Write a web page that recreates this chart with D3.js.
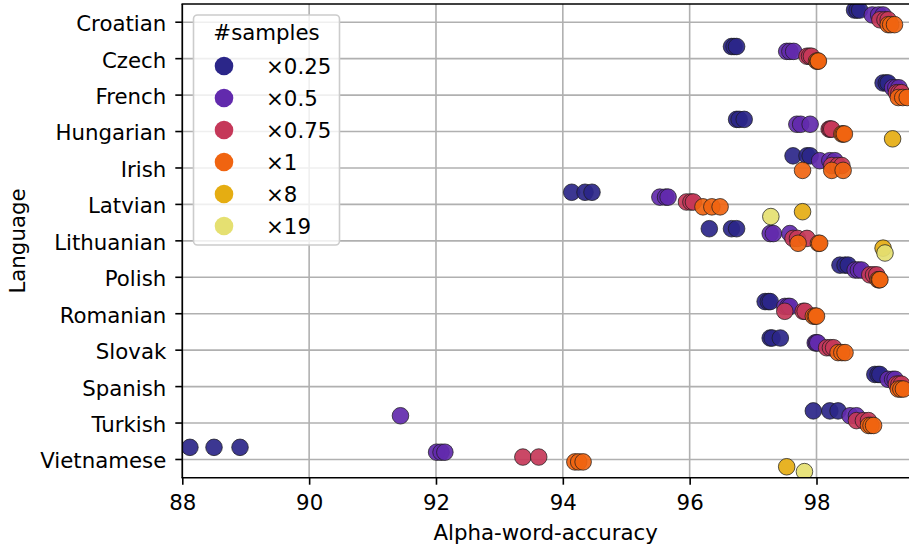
<!DOCTYPE html>
<html><head><meta charset="utf-8">
<script src="https://cdn.jsdelivr.net/npm/d3@7"></script>
<style>body{margin:0;background:#fff}svg{display:block;font-family:"DejaVu Sans",sans-serif}</style>
</head><body><svg id="c" width="909" height="550"></svg>
<script>
const languages = ["Croatian","Czech","French","Hungarian","Irish","Latvian","Lithuanian","Polish","Romanian","Slovak","Spanish","Turkish","Vietnamese"];
const hues = ["×0.25","×0.5","×0.75","×1","×8","×19"];
const hueColors = ["#2b2689","#622aad","#c53859","#f06410","#e5ad12","#e5e071"];
const xTicks = [88,90,92,94,96,98];
// values per language, one array per hue
const s025 = [[98.60,98.64,98.68],[96.66,96.70,96.74],[99.05,99.10,99.13],[96.74,96.78,96.86],[97.63,97.85,97.90],[94.14,94.35,94.46],[96.31,96.66,96.74],[98.37,98.45,98.50],[97.19,97.24,97.27],[97.27,97.30,97.43],[98.92,98.97,99.00],[97.95,98.21,98.34],[88.12,88.50,88.91]];
const s05  = [[98.88,98.98,99.05],[97.53,97.58,97.64],[99.20,99.25,99.30],[97.69,97.75,97.90],[98.05,98.21,98.29],[95.53,95.62,95.66],[97.27,97.32,97.58],[98.61,98.66,98.71],[97.50,97.55,97.58],[97.98,98.00,98.02],[99.13,99.20,99.24],[91.44,98.53,98.63],[92.01,92.08,92.14]];
const s075 = [[99.00,99.08,99.13],[97.85,97.89,97.92],[99.26,99.30,99.34],[98.20,98.22,98.24],[98.24,98.34,98.40],[95.95,96.02,96.06],[97.63,97.70,97.85],[98.84,98.90,98.95],[97.50,97.79,97.82],[98.16,98.22,98.27],[99.26,99.30,99.34],[98.63,98.74,98.82],[93.37,93.62]];
const s1   = [[99.13,99.17,99.23],[98.00,98.02,98.03],[99.29,99.36,99.43],[98.40,98.42,98.44],[97.78,98.24,98.42],[96.21,96.35,96.48],[97.71,98.03,98.05],[98.97,98.99,99.00],[97.95,97.98,98.00],[98.34,98.40,98.45],[99.29,99.33,99.37],[98.82,98.86,98.90],[94.19,94.25,94.32]];
const s8   = [[],[],[],[99.20],[],[97.78],[99.05],[],[],[],[],[],[97.53]];
const s19  = [[],[],[],[],[],[97.28],[99.08],[],[],[],[],[],[97.81]];
const series = [s025,s05,s075,s1,s8,s19];

const svg = d3.select("#c");
const L = 182.3, R = 909, T = 4, B = 477.7;
const x = d3.scaleLinear().domain([88, 88 + (R - L) / 63.42]).range([L, R]);
const y = d3.scaleBand().domain(languages).range([T, B]).padding(0);
const hueOff = d3.scaleBand().domain(hues).range([-0.4, 0.4]);

const FS = 21.3;
const grid = svg.append("g");
xTicks.forEach(v => grid.append("line").attr("x1", x(v)).attr("x2", x(v)).attr("y1", T).attr("y2", B)
  .attr("stroke", "#b0b0b0").attr("stroke-width", 1.6));
languages.forEach(l => { const yy = y(l) + y.bandwidth()/2;
  grid.append("line").attr("x1", L).attr("x2", R).attr("y1", yy).attr("y2", yy)
  .attr("stroke", "#b0b0b0").attr("stroke-width", 1.6); });

svg.append("clipPath").attr("id", "clip").append("rect").attr("x", L).attr("y", T).attr("width", R - L).attr("height", B - T);
const pts = svg.append("g").attr("clip-path", "url(#clip)");
series.forEach((ser, h) => {
  languages.forEach((lang, li) => {
    ser[li].forEach(v => {
      const cy = y(lang) + y.bandwidth()/2 + (hueOff(hues[h]) + hueOff.bandwidth()/2) * y.bandwidth();
      pts.append("circle").attr("cx", x(v)).attr("cy", cy).attr("r", 8.3)
        .attr("fill", hueColors[h]).attr("fill-opacity", 0.92)
        .attr("stroke", "#1a1a1a").attr("stroke-width", 0.8).attr("stroke-opacity", 0.9);
    });
  });
});

// spines
svg.append("line").attr("x1", L).attr("x2", L).attr("y1", T).attr("y2", B).attr("stroke", "#000").attr("stroke-width", 1.6);
svg.append("line").attr("x1", L - 0.8).attr("x2", R).attr("y1", B).attr("y2", B).attr("stroke", "#000").attr("stroke-width", 1.6);
svg.append("line").attr("x1", L - 0.8).attr("x2", R).attr("y1", T).attr("y2", T).attr("stroke", "#000").attr("stroke-width", 1.6);

// axes
const xa = svg.append("g").attr("transform", `translate(0,${B})`)
  .call(d3.axisBottom(x).tickValues(xTicks).tickFormat(d3.format("d")).tickSize(7).tickPadding(7));
xa.select(".domain").remove();
xa.selectAll("line").attr("stroke", "#000").attr("stroke-width", 1.6);
xa.selectAll("text").attr("font-size", FS).attr("font-family", "DejaVu Sans").attr("fill", "#000").attr("dy", "0.85em");

const ya = svg.append("g").attr("transform", `translate(${L},0)`)
  .call(d3.axisLeft(y).tickSize(7).tickPadding(9));
ya.select(".domain").remove();
ya.selectAll("line").attr("stroke", "#000").attr("stroke-width", 1.6);
ya.selectAll("text").attr("font-size", FS).attr("font-family", "DejaVu Sans").attr("fill", "#000").attr("dy", "0.42em");

svg.append("text").attr("x", (L + R) / 2).attr("y", 540).attr("text-anchor", "middle")
  .attr("font-size", FS).text("Alpha-word-accuracy");
svg.append("text").attr("transform", "translate(25,241) rotate(-90)").attr("text-anchor", "middle")
  .attr("font-size", FS).text("Language");

// legend
const lg = svg.append("g");
lg.append("rect").attr("x", 193.5).attr("y", 15).attr("width", 146).attr("height", 230).attr("rx", 4)
  .attr("fill", "#fff").attr("fill-opacity", 0.8).attr("stroke", "#cccccc").attr("stroke-width", 1.6);
lg.append("text").attr("x", 266.5).attr("y", 40).attr("text-anchor", "middle").attr("font-size", FS).text("#samples");
hues.forEach((h, i) => {
  const cy = 66 + i * 32;
  lg.append("circle").attr("cx", 224).attr("cy", cy).attr("r", 9.3).attr("fill", hueColors[i]);
  lg.append("text").attr("x", 266).attr("y", cy + 7.5).attr("font-size", FS).text(h);
});
</script></body></html>
